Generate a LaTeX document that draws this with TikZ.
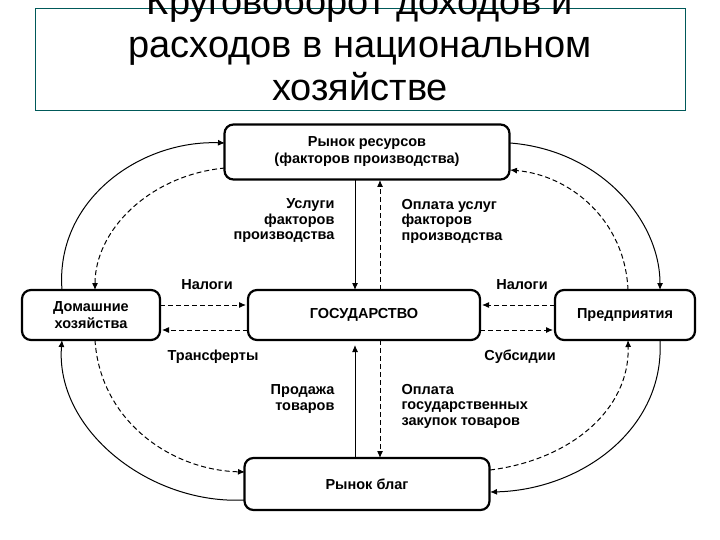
\documentclass[tikz,border=0pt]{standalone}
\usepackage{fontspec}
\setmainfont{Liberation Sans}
\usetikzlibrary{arrows.meta}
\begin{document}
\begin{tikzpicture}[x=1pt,y=-1pt,
  box/.style={draw,line width=2.2pt,rounded corners=9pt,fill=white,font=\bfseries\fontsize{14.5}{17}\selectfont,align=center},
  lbl/.style={font=\bfseries\fontsize{14.5}{15.5}\selectfont},
  arr/.style={-{Latex[length=7pt,width=6pt]},line width=1pt},
  darr/.style={arr,dashed,dash pattern=on 5pt off 3pt}]
\useasboundingbox (0,0) rectangle (720,540);
\fill[white] (0,0) rectangle (720,540);
\node[draw=teal!70!black,line width=0.6pt,minimum width=650,minimum height=102,anchor=north west,inner sep=0] (tb) at (35,8) {};
\begin{scope}
\clip (0,0) rectangle (720,540);
\node[align=center,font=\fontsize{38}{43}\selectfont,anchor=north,inner sep=0] (title) at (360,-14) {Круговоборот доходов и\\расходов в национальном\\хозяйстве};
\end{scope}
\node[box,minimum width=285,minimum height=55] (res) at (367,152) {Рынок ресурсов\\(факторов производства)};
\node[box,minimum width=138,minimum height=50] (hh) at (91,315) {Домашние\\хозяйства};
\node[box,minimum width=232,minimum height=50] (gov) at (364,315) {ГОСУДАРСТВО};
\node[box,minimum width=140,minimum height=50] (firm) at (625,315) {Предприятия};
\node[box,minimum width=245,minimum height=52] (goods) at (367,484) {Рынок благ};
% vertical
\draw[arr] (355,180) -- (355,290);
\draw[darr] (380,290) -- (380,180);
\draw[arr] (355,458) -- (355,345);
\draw[darr] (380,340) -- (380,458);
% horizontal
\draw[darr] (160,305) -- (246,305);
\draw[darr] (248,330) -- (162,330);
\draw[darr] (555,305) -- (482,305);
\draw[darr] (480,330) -- (553,330);
% outer curves
\draw[arr] (62,290) .. controls (55,200) and (140,140) .. (225,143);
\draw[darr] (225,168) .. controls (150,175) and (95,230) .. (95,290);
\draw[arr] (510,143) .. controls (600,150) and (660,220) .. (660,290);
\draw[darr] (628,290) .. controls (625,220) and (570,175) .. (510,170);
\draw[arr] (245,500) .. controls (150,505) and (55,430) .. (62,340);
\draw[darr] (95,340) .. controls (100,420) and (170,470) .. (245,472);
\draw[arr] (660,340) .. controls (665,430) and (580,490) .. (490,492);
\draw[darr] (490,470) .. controls (570,460) and (630,410) .. (628,340);
% labels
\node[lbl,align=right,anchor=east] (l1) at (338,221) {Услуги\\факторов\\производства};
\node[lbl,align=left,anchor=west] (l2) at (398,221) {Оплата услуг\\факторов\\производства};
\node[lbl] (l3) at (207,285) {Налоги};
\node[lbl] (l4) at (213,357) {Трансферты};
\node[lbl] (l5) at (522,285) {Налоги};
\node[lbl] (l6) at (520,357) {Субсидии};
\node[lbl,align=right,anchor=east] (l7) at (338,399) {Продажа\\товаров};
\node[lbl,align=left,anchor=west] (l8) at (398,406) {Оплата\\государственных\\закупок товаров};
\end{tikzpicture}
\end{document}
